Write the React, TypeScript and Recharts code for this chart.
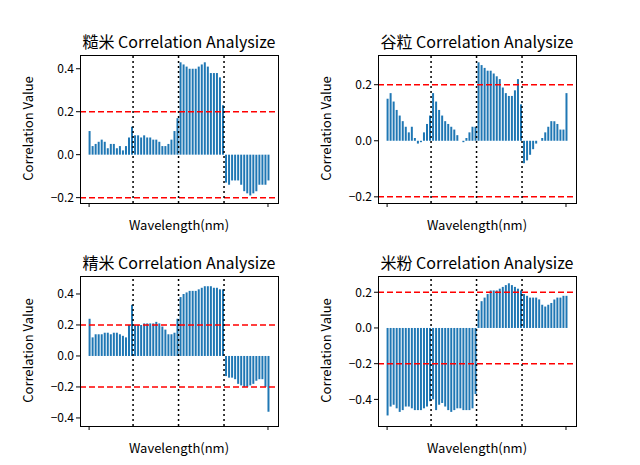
import React from "react";
import { BarChart, Bar, XAxis, YAxis, ReferenceLine } from "recharts";

const brownRice = [
  0.11, 0.04, 0.05, 0.06, 0.07, 0.06, 0.03, 0.05, 0.05, 0.03, 0.04, 0.02, 0.04, 0.08, 0.13,
  0.09, 0.09, 0.08, 0.09, 0.08, 0.08, 0.07, 0.07, 0.06, 0.04, 0.04, 0.05, 0.07, 0.11, 0.17,
  0.43, 0.42, 0.41, 0.4, 0.4, 0.4, 0.41, 0.42, 0.43, 0.41, 0.38, 0.38, 0.38, 0.36, 0.23,
  -0.13, -0.14, -0.12, -0.12, -0.12, -0.14, -0.17, -0.18, -0.19, -0.18, -0.17, -0.14, -0.14, -0.14, -0.12,
];
const paddy = [
  0.15, 0.17, 0.14, 0.11, 0.09, 0.07, 0.05, 0.03, 0.05, 0.01, -0.01, -0.005, 0.03, 0.06, 0.09,
  0.17, 0.14, 0.11, 0.09, 0.07, 0.06, 0.05, 0.04, 0.02, 0.0, -0.005, 0.01, 0.03, 0.05, 0.05,
  0.28, 0.27, 0.26, 0.25, 0.25, 0.24, 0.23, 0.22, 0.19, 0.17, 0.16, 0.16, 0.18, 0.22, 0.13,
  -0.08, -0.07, -0.05, -0.03, -0.01, 0.0, 0.01, 0.03, 0.05, 0.07, 0.07, 0.06, 0.04, 0.04, 0.17,
];
const milledRice = [
  0.24, 0.12, 0.14, 0.14, 0.14, 0.15, 0.15, 0.14, 0.15, 0.15, 0.14, 0.13, 0.12, 0.2, 0.33,
  0.2, 0.2, 0.2, 0.21, 0.21, 0.21, 0.21, 0.22, 0.21, 0.19, 0.17, 0.14, 0.14, 0.15, 0.24,
  0.38, 0.4, 0.41, 0.42, 0.42, 0.42, 0.43, 0.44, 0.45, 0.45, 0.45, 0.44, 0.44, 0.43, 0.43,
  -0.13, -0.14, -0.14, -0.15, -0.18, -0.19, -0.2, -0.2, -0.19, -0.18, -0.16, -0.15, -0.15, -0.2, -0.36,
];
const riceFlour = [
  -0.49, -0.44, -0.43, -0.45, -0.47, -0.46, -0.44, -0.44, -0.45, -0.46, -0.46, -0.46, -0.45, -0.44, -0.41,
  -0.4, -0.46, -0.43, -0.42, -0.44, -0.46, -0.47, -0.46, -0.45, -0.45, -0.46, -0.46, -0.46, -0.45, -0.37,
  0.1, 0.15, 0.17, 0.19, 0.21, 0.21, 0.21, 0.22, 0.23, 0.24, 0.25, 0.24, 0.23, 0.22, 0.21,
  0.19, 0.18, 0.17, 0.17, 0.17, 0.16, 0.13, 0.12, 0.13, 0.14, 0.16, 0.17, 0.17, 0.18, 0.18,
];

const dividers = [14.5, 29.5, 44.5];
const font = '"Noto Sans CJK SC", "Noto Sans", sans-serif';

const fmt = (v: number) => v.toFixed(1).replace("-", "\u2212");

type PanelProps = {
  title: string;
  values: number[];
  left: number;
  top: number;
  plotH: number;
  domain: [number, number];
  ticks: number[];
};

const Panel = ({ title, values, left, top, plotH, domain, ticks }: PanelProps) => {
  const data = values.map((v, i) => ({ x: i, v }));
  const height = 7 + plotH + 33;
  const plotTop = top + 7;
  return (
    <>
      <div style={{ position: "absolute", left: left + 80, top: plotTop - 26, width: 198, textAlign: "center", fontSize: 16, fontFamily: font }}>
        {title}
      </div>
      <div style={{ position: "absolute", left, top }}>
        <BarChart width={290} height={height} data={data} margin={{ top: 7, right: 12, left: 0, bottom: 0 }}>
          <XAxis dataKey="x" type="number" domain={[-3, 62.3]} ticks={[0, 59]} tickFormatter={() => ""} height={33} axisLine={false} tickLine={{ stroke: "#000" }} tickSize={4} />
          <YAxis type="number" domain={domain} ticks={ticks} tickFormatter={fmt} width={80} axisLine={false} tickLine={{ stroke: "#000" }} tickSize={4} allowDataOverflow tick={{ fill: "#000", fontSize: 12, fontFamily: font }} />
          <Bar dataKey="v" fill="#1f77b4" barSize={2} isAnimationActive={false} />
          <ReferenceLine y={0.2} stroke="red" strokeDasharray="6 3" strokeWidth={1.5} />
          <ReferenceLine y={-0.2} stroke="red" strokeDasharray="6 3" strokeWidth={1.5} />
          {dividers.map((d) => (
            <ReferenceLine key={d} x={d} stroke="#000" strokeDasharray="2 3" strokeWidth={1.5} />
          ))}
        </BarChart>
      </div>
      <div style={{ position: "absolute", left: left + 80, top: plotTop, width: 197, height: plotH - 1, border: "1px solid #000", pointerEvents: "none" }} />
      <div style={{ position: "absolute", left: left + 80, top: plotTop + plotH + 12, width: 198, textAlign: "center", fontSize: 13, fontFamily: font }}>
        Wavelength(nm)
      </div>
      <div style={{ position: "absolute", left: left + 27 - 70, top: plotTop + plotH / 2 - 10, width: 140, textAlign: "center", fontSize: 13, fontFamily: font, transform: "rotate(-90deg)" }}>
        Correlation Value
      </div>
    </>
  );
};

export default function App() {
  return (
    <div style={{ position: "absolute", left: 0, top: 0, width: 640, height: 465, background: "#fff" }}>
      <Panel title="糙米 Correlation Analysize" values={brownRice} left={0} top={48} plotH={148} domain={[-0.225, 0.464]} ticks={[-0.2, 0, 0.2, 0.4]} />
      <Panel title="谷粒 Correlation Analysize" values={paddy} left={298} top={48} plotH={148} domain={[-0.222, 0.306]} ticks={[-0.2, 0, 0.2]} />
      <Panel title="精米 Correlation Analysize" values={milledRice} left={0} top={269} plotH={150} domain={[-0.452, 0.516]} ticks={[-0.4, -0.2, 0, 0.2, 0.4]} />
      <Panel title="米粉 Correlation Analysize" values={riceFlour} left={298} top={269} plotH={150} domain={[-0.549, 0.291]} ticks={[-0.4, -0.2, 0, 0.2]} />
    </div>
  );
}
